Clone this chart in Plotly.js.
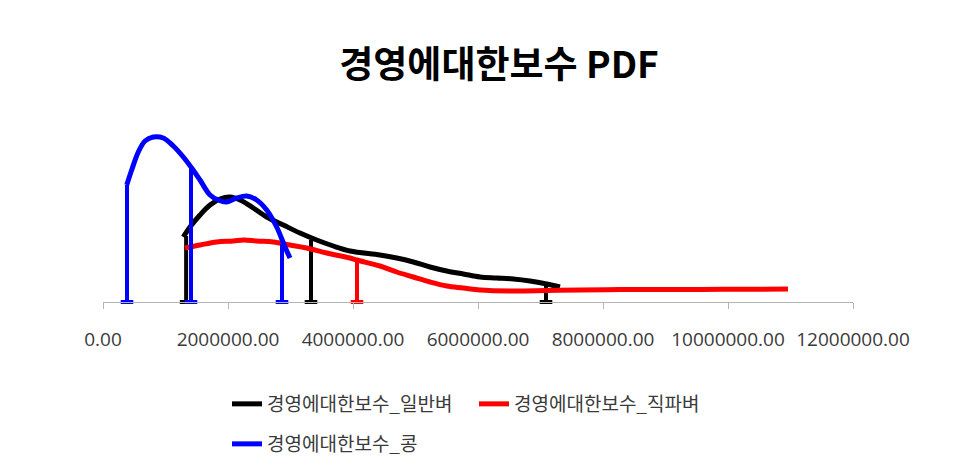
<!DOCTYPE html>
<html>
<head>
<meta charset="utf-8">
<script src="https://cdn.plot.ly/plotly-3.0.1.min.js"></script>
<style>html,body{margin:0;padding:0;background:#fff;}#chart{width:968px;height:475px;}</style>
</head>
<body>
<div id="chart"></div>
<script>
// Estimated density curves (relative density units)
var titleText = '경영에대한보수 PDF';
var seriesNames = ['경영에대한보수_일반벼', '경영에대한보수_직파벼', '경영에대한보수_콩'];
var seriesColors = ['#000000', '#ff0000', '#0000ff'];

// 일반벼
var xIlban = [1285000, 1392000, 1552000, 1712000, 1872000, 2032000, 2192000, 2405000, 2619000, 2885000, 3152000, 3419000, 3685000, 3952000, 4432000, 4699000, 4965000, 5232000, 5499000, 5765000, 6032000, 6299000, 6565000, 6832000, 7099000, 7312000];
var yIlban = [65, 75, 87, 97, 103, 105, 102, 94, 85, 77, 69, 62, 56, 51, 47, 44, 40, 35, 31, 28, 25, 24, 23, 21, 18, 15];
var pctXIlban = [1330000, 3328000, 7088000];
var pctYIlban = [66, 62, 18];

// 직파벼
var xJikpa = [1312000, 1552000, 1819000, 2085000, 2245000, 2459000, 2725000, 2992000, 3259000, 3579000, 3952000, 4059000, 4432000, 4699000, 4965000, 5232000, 5499000, 5765000, 6032000, 6565000, 7099000, 7632000, 8272000, 8912000, 9552000, 10352000, 10960000];
var yJikpa = [54, 57, 60, 61, 62, 61, 60, 57, 54, 49, 44, 42, 36, 30, 25, 20, 16, 14, 12, 11, 11.5, 12, 12.5, 12.5, 12.5, 12.8, 13];
var pctXJikpa = [4064000];
var pctYJikpa = [42];

// 콩
var xKong = [380000, 459000, 565000, 672000, 805000, 965000, 1125000, 1285000, 1419000, 1552000, 1712000, 1845000, 1979000, 2139000, 2299000, 2459000, 2619000, 2779000, 2912000, 2992000];
var yKong = [117, 132, 150, 161, 165, 164, 156, 145, 134, 122, 107, 102, 100, 104, 106, 102, 92, 75, 55, 44];
var pctXKong = [384000, 1408000, 2864000];
var pctYKong = [117, 134, 58];

var xTickVals = [0, 2000000, 4000000, 6000000, 8000000, 10000000, 12000000];

function dropLines(xs, ys) {
  var lx = [], ly = [];
  for (var i = 0; i < xs.length; i++) {
    lx.push(xs[i], xs[i], null);
    ly.push(0, ys[i], null);
  }
  return {x: lx, y: ly};
}
function feet(xs) {
  return xs.map(function () { return 0; });
}

var curves = [
  {x: xIlban, y: yIlban, px: pctXIlban, py: pctYIlban},
  {x: xJikpa, y: yJikpa, px: pctXJikpa, py: pctYJikpa},
  {x: xKong, y: yKong, px: pctXKong, py: pctYKong}
];
var legendIds = ['legend', 'legend2', 'legend3'];

var data = [];
curves.forEach(function (c, i) {
  var d = dropLines(c.px, c.py);
  data.push({
    type: 'scatter', mode: 'lines', x: d.x, y: d.y, showlegend: false,
    line: {color: seriesColors[i], width: 4}, hoverinfo: 'skip', cliponaxis: false
  });
  data.push({
    type: 'scatter', mode: 'markers', x: c.px, y: feet(c.px), showlegend: false,
    marker: {symbol: 'line-ew', size: 9, line: {color: seriesColors[i], width: 4}},
    hoverinfo: 'skip', cliponaxis: false
  });
  data.push({
    type: 'scatter', mode: 'lines', x: c.x, y: c.y, name: seriesNames[i],
    legend: legendIds[i],
    line: {color: seriesColors[i], width: 5, shape: 'spline', smoothing: 1},
    cliponaxis: false
  });
});

var legFont = {family: "'Noto Sans CJK KR', 'Open Sans', sans-serif", size: 19, color: '#3a3a3a'};
function leg(xpx, ypx) {
  return {
    orientation: 'h', xref: 'container', yref: 'container',
    x: xpx / 968, y: 1 - ypx / 475, xanchor: 'left', yanchor: 'middle',
    font: legFont, bgcolor: 'rgba(0,0,0,0)', borderwidth: 0
  };
}

var layout = {
  width: 968, height: 475,
  margin: {l: 103, r: 115, t: 120, b: 173},
  paper_bgcolor: '#ffffff', plot_bgcolor: '#ffffff',
  title: {
    text: titleText,
    font: {family: "'Noto Sans CJK KR', sans-serif", size: 37, color: '#000000', weight: 'bold'},
    xref: 'container', yref: 'container', x: 499 / 968, y: 1 - 65 / 475,
    xanchor: 'center', yanchor: 'middle'
  },
  xaxis: {
    range: [0, 12000000], tickvals: xTickVals, tickformat: '.2f',
    showgrid: false, zeroline: false, showline: true, linecolor: '#b4b4b4', linewidth: 1,
    ticks: 'outside', ticklen: 6, tickcolor: '#b4b4b4', tickwidth: 1,
    tickfont: {family: "'Open Sans', sans-serif", size: 19, color: '#3a3a3a'},
    ticklabelstandoff: 14, fixedrange: true
  },
  yaxis: {range: [0, 182], visible: false, fixedrange: true},
  showlegend: true,
  legend: leg(227, 404),
  legend2: leg(474, 404),
  legend3: leg(227, 444)
};

Plotly.newPlot('chart', data, layout, {displayModeBar: false, staticPlot: true});
</script>
</body>
</html>
